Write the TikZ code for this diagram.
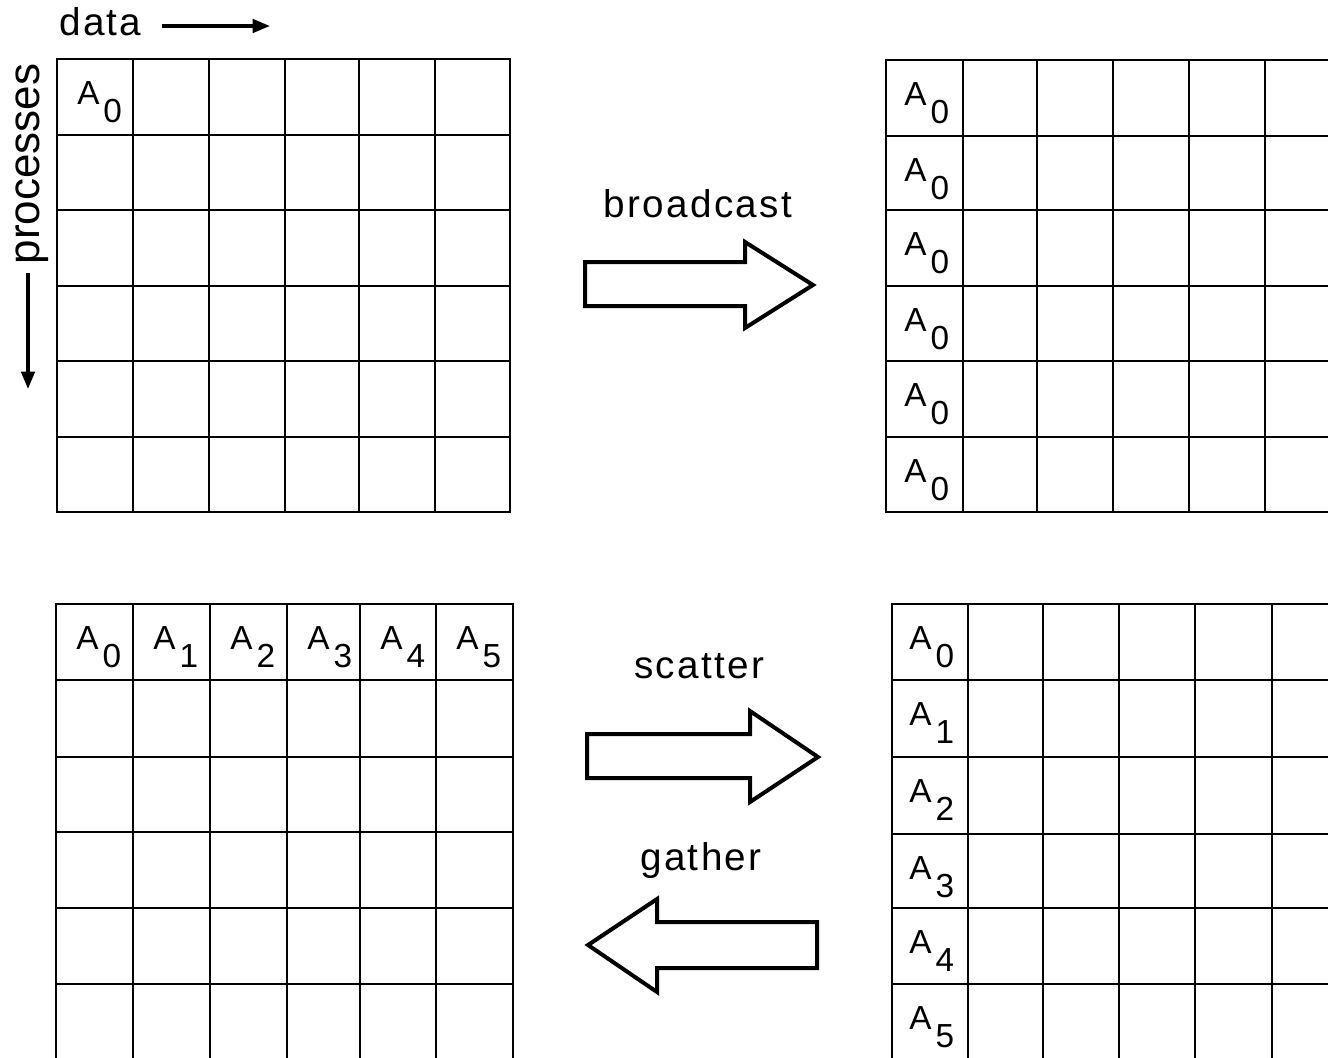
\documentclass[tikz,border=0pt]{standalone}
\usepackage{fontspec}
\setmainfont{Liberation Sans}
\newfontfamily\lblfont[LetterSpace=6]{Liberation Sans}
\usetikzlibrary{arrows.meta}
\newcommand\Asub[1]{A\kern3pt\raisebox{-13.5pt}{#1}}
\tikzset{
  gridline/.style={line width=2pt, line cap=rect},
  blockarrow/.style={line width=3pt, line join=miter, fill=white},
  cellA/.style={inner sep=0pt, anchor=base west, font=\fontsize{25}{25}\selectfont},
  caption/.style={inner sep=0pt, anchor=base, font=\lblfont\fontsize{29}{29}\selectfont},
  axisarrow/.style={line width=2.6pt, -{Triangle[length=13pt,width=10pt]}}
}
\begin{document}
\begin{tikzpicture}[x=0.75pt,y=-0.75pt]
\useasboundingbox (0,0) rectangle (1328,1057);
\clip (0,0) rectangle (1328,1057);
\fill[white] (0,0) rectangle (1328,1057);

% ---- top-left grid ----
\foreach \x in {57,133,209,285,359,435,510} \draw[gridline] (\x,59) -- (\x,512);
\foreach \y in {59,135,210,286,361,437,512} \draw[gridline] (57,\y) -- (510,\y);
\node[cellA] (tlA) at (77,104) {\Asub{0}};

% ---- top-right grid ----
\foreach \x in {886,963,1037,1113,1189,1265,1341} \draw[gridline] (\x,60) -- (\x,512);
\foreach \y in {60,136,210,286,361,437,512} \draw[gridline] (886,\y) -- (1341,\y);
\foreach \y [count=\i] in {60,136,210,286,361,437} \node[cellA] (trA\i) at (904,\y+45) {\Asub{0}};

% ---- bottom-left grid ----
\foreach \x in {56,133,210,287,360,436,513} \draw[gridline] (\x,604) -- (\x,1060);
\foreach \y in {604,680,757,832,908,984,1060} \draw[gridline] (56,\y) -- (513,\y);
\foreach \x [count=\i from 0] in {56,133,210,287,360,436} \node[cellA] (blA\i) at (\x+20,649) {\Asub{\i}};

% ---- bottom-right grid ----
\foreach \x in {892,968,1043,1119,1195,1272,1348} \draw[gridline] (\x,604) -- (\x,1060);
\foreach \y in {604,680,757,834,908,984,1060} \draw[gridline] (892,\y) -- (1348,\y);
\foreach \y [count=\i from 0] in {604,680,757,834,908,984} \node[cellA] (brA\i) at (909,\y+45) {\Asub{\i}};

% ---- axis labels ----
\node[inner sep=0pt, anchor=base west, font=\lblfont\fontsize{29}{29}\selectfont] (data) at (59,35) {data};
\coordinate (dataS) at (162,26);
\coordinate (dataE) at (270,26);
\draw[axisarrow] (dataS) -- (dataE);

\node[inner sep=0pt, anchor=base, rotate=90, font=\fontsize{33}{33}\selectfont] (proc) at (39,164) {processes};
\coordinate (procS) at (28,273);
\coordinate (procE) at (28,389);
\draw[axisarrow] (procS) -- (procE);

% ---- broadcast ----
\node[caption] (bcast) at (698,217) {broadcast};
\draw[blockarrow] (585,262) -- (745,262) -- (745,242) -- (813,285) -- (745,328) -- (745,306) -- (585,306) -- cycle;

% ---- scatter ----
\node[caption] (scat) at (699,678) {scatter};
\draw[blockarrow] (587,734) -- (750,734) -- (750,711) -- (818,757) -- (750,802) -- (750,778) -- (587,778) -- cycle;

% ---- gather ----
\node[caption] (gath) at (701,870) {gather};
\draw[blockarrow] (817,922) -- (657,922) -- (657,899) -- (588,945) -- (657,992) -- (657,968) -- (817,968) -- cycle;
\end{tikzpicture}
\end{document}
